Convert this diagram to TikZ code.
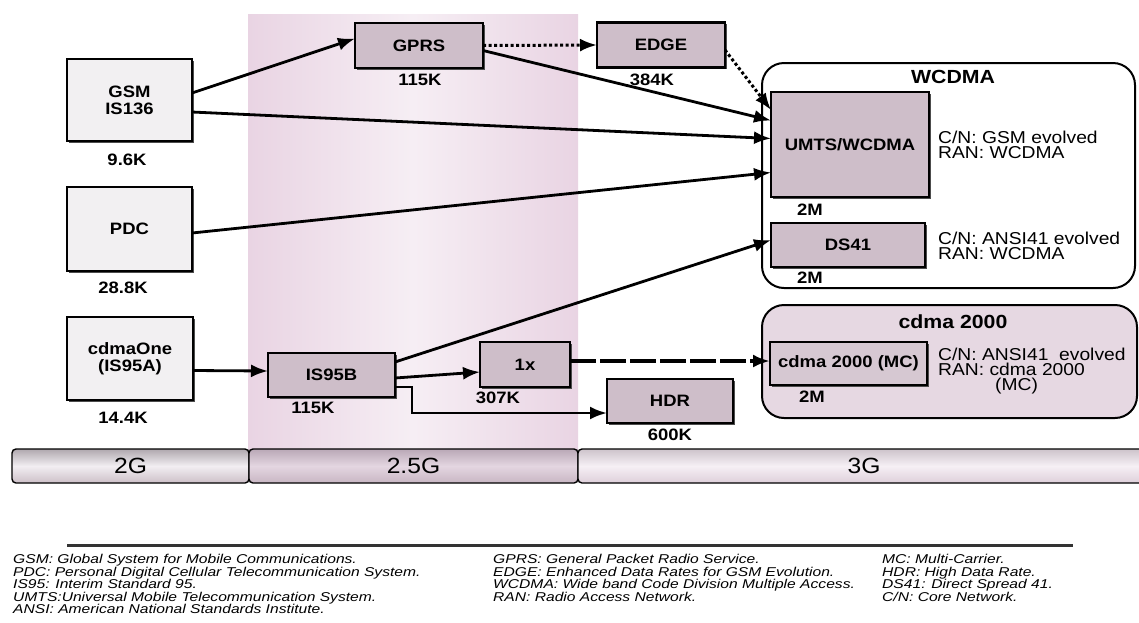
\documentclass[tikz,border=0pt]{standalone}
\usepackage{fontspec}
\setmainfont{Liberation Sans}[FakeStretch=1.12]
\newfontfamily\legendfont{Liberation Sans}[FakeStretch=1.22]
\usetikzlibrary{arrows.meta,shadows}
\definecolor{oldfill}{RGB}{242,240,242}
\definecolor{newfill}{RGB}{206,190,201}
\definecolor{mcfill}{RGB}{214,200,210}
\definecolor{cdmacont}{RGB}{230,216,226}
\definecolor{bandA}{RGB}{233,212,227}
\definecolor{bandB}{RGB}{246,238,244}
\begin{document}
\begin{tikzpicture}[x=1pt,y=-1pt,
  base/.style={draw=black, line width=2.3pt, inner sep=0pt, outer sep=0pt, align=center,
    font=\fontsize{16.5}{17}\selectfont\bfseries,
    drop shadow={shadow xshift=1.8pt, shadow yshift=-1.8pt, fill=black!70, opacity=1}},
  oldbox/.style={base, fill=oldfill},
  newbox/.style={base, fill=newfill},
  mcbox/.style={base, fill=mcfill},
  container/.style={draw=black, line width=2pt, rounded corners=22pt, inner sep=0pt, outer sep=0pt},
  rate/.style={font=\fontsize{16.5}{17}\selectfont\bfseries, inner sep=0pt},
  ctitle/.style={font=\fontsize{19}{20}\selectfont\bfseries, inner sep=0pt},
  info/.style={font=\fontsize{17.2}{15}\selectfont, align=left, inner sep=0pt, anchor=west},
  barseg/.style={draw=black, line width=1.4pt, rounded corners=4pt, inner sep=0pt, outer sep=0pt,
    font=\fontsize{22}{22}\selectfont},
  legend/.style={font=\legendfont\fontsize{12.8}{12.6}\selectfont\itshape, align=left, inner sep=0pt, anchor=north west},
  arr/.style={line width=2.8pt, -{Latex[length=17pt,width=13pt]}},
  dotarr/.style={arr, line width=3pt, dash pattern=on 3pt off 2.5pt},
  dasharr/.style={arr, line width=3.4pt, dash pattern=on 26pt off 4pt}
]
\useasboundingbox (0,0) rectangle (1139,622);
\fill[white] (0,0) rectangle (1139,622);

% 2.5G band
\shade[left color=bandA, right color=bandA, middle color=bandB] (248,14) rectangle (578,449);

% containers
\node[container, fill=white, minimum width=373pt, minimum height=225pt] (wcdmac) at (948.5,175.5) {};
\node[ctitle] (wcdmat) at (953,77) {WCDMA};
\node[container, fill=cdmacont, minimum width=375pt, minimum height=113pt] (cdmac) at (949.5,361.5) {};
\node[ctitle] (cdmat) at (953,322) {cdma 2000};

% boxes
\node[oldbox, minimum width=125pt, minimum height=82pt] (gsm) at (129.5,100) {GSM\\IS136};
\node[oldbox, minimum width=125pt, minimum height=84pt] (pdc) at (129.5,229) {PDC};
\node[oldbox, minimum width=126pt, minimum height=83pt] (cdmaone) at (130,358.5) {cdmaOne\\(IS95A)};
\node[newbox, minimum width=128pt, minimum height=45pt] (gprs) at (419,45.5) {GPRS};
\node[newbox, minimum width=128pt, minimum height=45pt] (edge) at (661,45) {EDGE};
\node[newbox, minimum width=158pt, minimum height=105pt] (umts) at (850,144.5) {UMTS/WCDMA};
\node[newbox, minimum width=154pt, minimum height=44pt] (ds41) at (848,245) {DS41};
\node[newbox, minimum width=127pt, minimum height=44pt] (is95b) at (331.5,375) {IS95B};
\node[newbox, minimum width=90pt, minimum height=45pt] (onex) at (525,364.5) {1x};
\node[newbox, minimum width=126pt, minimum height=44pt] (hdr) at (670,401) {HDR};
\node[mcbox, minimum width=157pt, minimum height=43pt] (mc) at (848.5,363.5) {cdma 2000 (MC)};

% rates
\node[rate] (r1) at (127,160) {9.6K};
\node[rate] (r2) at (123,288) {28.8K};
\node[rate] (r3) at (123,418) {14.4K};
\node[rate] (r4) at (420,80) {115K};
\node[rate] (r5) at (652,80) {384K};
\node[rate] (r6) at (810,210) {2M};
\node[rate] (r7) at (810,278) {2M};
\node[rate] (r8) at (313,408) {115K};
\node[rate] (r9) at (498,398) {307K};
\node[rate] (r10) at (670,435) {600K};
\node[rate] (r11) at (812,397) {2M};

% info texts
\node[info] (i1) at (938,145) {C/N: GSM evolved\\RAN: WCDMA};
\node[info] (i2) at (938,245.5) {C/N: ANSI41 evolved\\RAN: WCDMA};
\node[info] (i3) at (938,371) {C/N: ANSI41\ \ evolved\\RAN: cdma 2000\\\hspace*{57pt}(MC)};

% connectors
\draw[arr] ([yshift=7pt]gsm.east) -- ([yshift=7pt]gprs.west);
\draw[arr] ([yshift=-12pt]gsm.east) -- ([yshift=6pt]umts.west);
\draw[arr] ([yshift=-5pt]gprs.east) -- ([yshift=24pt]umts.west);
\draw[arr] ([yshift=-4pt]pdc.east) -- ([yshift=-28pt]umts.west);
\draw[dotarr] (gprs.east) -- (edge.west);
\draw[dotarr] ([yshift=-5pt]edge.east) -- ([yshift=-18pt]umts.north west);
\draw[arr] ([yshift=-12pt]cdmaone.east) -- ([yshift=4pt]is95b.west);
\draw[arr] ([yshift=-3pt]is95b.east) -- ([yshift=-7.5pt]onex.west);
\draw[arr] ([yshift=13pt]is95b.east) -- ([yshift=5pt]ds41.west);
\draw[arr] ([yshift=-12pt]is95b.east) -- ++(17,0) |- ([yshift=-12pt]hdr.west);
\draw[dasharr] ([yshift=3.5pt]onex.east) -- ([yshift=2.5pt]mc.west);

% generation bar
\node[barseg, top color={rgb,255:red,175;green,168;blue,174}, bottom color={rgb,255:red,205;green,192;blue,200}, middle color={rgb,255:red,242;green,238;blue,242}, minimum width=237pt, minimum height=34pt] (g2) at (130.5,466) {2G};
\node[barseg, top color={rgb,255:red,185;green,168;blue,182}, bottom color={rgb,255:red,200;green,182;blue,195}, middle color={rgb,255:red,228;green,214;blue,225}, minimum width=329pt, minimum height=34pt] (g25) at (413.5,466) {2.5G};
\node[barseg, top color={rgb,255:red,205;green,195;blue,203}, bottom color={rgb,255:red,222;green,207;blue,218}, middle color={rgb,255:red,246;green,240;blue,245}, minimum width=572pt, minimum height=34pt] (g3) at (864,466) {3G};

% legend
\draw[line width=3pt, black!80] (67,545) -- (1073,545);
\node[legend] (lg1) at (13,554) {GSM: Global System for Mobile Communications.\\PDC: Personal Digital Cellular Telecommunication System.\\IS95: Interim Standard 95.\\UMTS:Universal Mobile Telecommunication System.\\ANSI: American National Standards Institute.};
\node[legend] (lg2) at (493,554) {GPRS: General Packet Radio Service.\\EDGE: Enhanced Data Rates for GSM Evolution.\\WCDMA: Wide band Code Division Multiple Access.\\RAN: Radio Access Network.};
\node[legend] (lg3) at (882,554) {MC: Multi-Carrier.\\HDR: High Data Rate.\\DS41: Direct Spread 41.\\C/N: Core Network.};
\end{tikzpicture}
\end{document}
